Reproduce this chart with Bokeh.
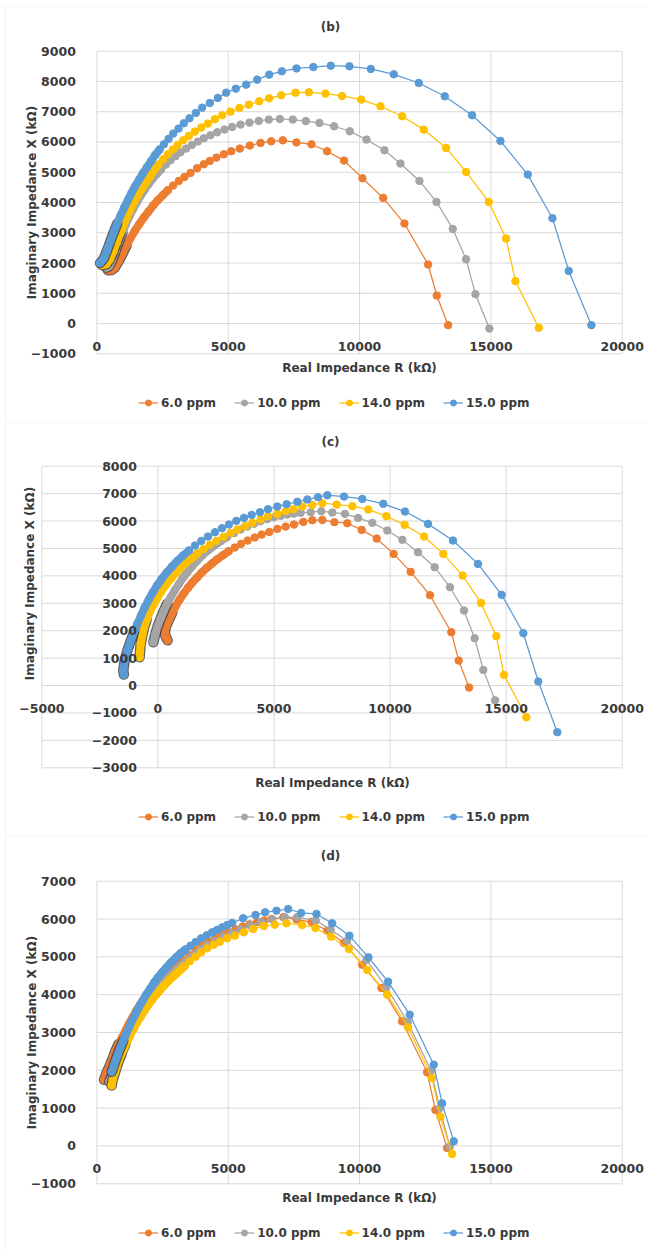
from bokeh.plotting import figure
from bokeh.layouts import column
from bokeh.models import Range1d, Label, Legend, LegendItem, SingleIntervalTicker, BoxAnnotation
from bokeh.embed import file_html
from bokeh.resources import INLINE

SERIES_NAMES = ["6.0 ppm", "10.0 ppm", "14.0 ppm", "15.0 ppm"]
SERIES_COLORS = ["#ED7D31", "#A5A5A5", "#FFC000", "#5B9BD5"]
X_TITLE = "Real Impedance R (kΩ)"
Y_TITLE = "Imaginary Impedance X (kΩ)"

# ---------------- panel (b) ----------------
b_r_6 = [420, 560, 683, 835, 975, 1127, 1280, 1444, 1609, 1787, 1965, 2142, 2320, 2523, 2701, 2904, 3120, 3335,
         3564, 3818, 4071, 4300, 4553, 4833, 5112, 5442, 5823, 6229, 6635, 7079, 7596, 8169, 8765, 9412, 10110,
         10897, 11709, 12610, 12940, 13372]
b_x_6 = [1760, 1770, 1851, 2071, 2313, 2577, 2819, 3062, 3282, 3502, 3700, 3898, 4075, 4251, 4405, 4559, 4713, 4845,
         4977, 5132, 5264, 5374, 5484, 5594, 5693, 5781, 5880, 5968, 6023, 6056, 5985, 5924, 5693, 5385, 4801,
         4152, 3304, 1950, 926, -54]
b_r_10 = [360, 467, 594, 721, 848, 975, 1102, 1241, 1381, 1521, 1660, 1812, 1965, 2117, 2282, 2447, 2625, 2802,
          2993, 3183, 3399, 3614, 3843, 4071, 4325, 4579, 4858, 5150, 5467, 5810, 6165, 6545, 6965, 7459, 7954,
          8473, 9032, 9628, 10263, 10948, 11557, 12280, 12928, 13549, 14057, 14412, 14945]
b_x_10 = [1850, 1895, 2126, 2423, 2720, 3007, 3282, 3546, 3788, 4009, 4218, 4416, 4603, 4779, 4944, 5099, 5253, 5396,
          5528, 5660, 5781, 5902, 6012, 6122, 6222, 6321, 6409, 6497, 6574, 6640, 6695, 6739, 6761, 6739, 6690,
          6630, 6519, 6354, 6078, 5726, 5286, 4713, 4019, 3128, 2126, 970, -164]
b_r_14 = [200, 366, 493, 632, 759, 886, 1013, 1140, 1280, 1419, 1559, 1711, 1863, 2016, 2181, 2346, 2523, 2701,
          2891, 3081, 3284, 3500, 3729, 3970, 4224, 4490, 4769, 5087, 5429, 5785, 6178, 6559, 7015, 7561, 8069,
          8702, 9336, 10060, 10796, 11620, 12445, 13296, 14057, 14920, 15580, 15935, 16823]
b_x_14 = [1930, 1961, 2115, 2390, 2687, 2973, 3260, 3524, 3788, 4019, 4240, 4460, 4669, 4867, 5065, 5253, 5429, 5594,
          5748, 5902, 6056, 6200, 6343, 6475, 6607, 6750, 6882, 7003, 7124, 7234, 7345, 7444, 7543, 7631, 7642,
          7598, 7521, 7400, 7179, 6849, 6409, 5803, 5010, 4019, 2808, 1399, -142]
b_r_15 = [120, 264, 391, 518, 645, 772, 899, 1038, 1178, 1318, 1457, 1609, 1762, 1914, 2066, 2218, 2384, 2549,
          2726, 2904, 3107, 3310, 3526, 3767, 4008, 4300, 4604, 4922, 5290, 5683, 6102, 6559, 7041, 7600, 8240,
          8905, 9615, 10428, 11303, 12255, 13245, 14285, 15364, 16405, 17344, 17965, 18828]
b_x_15 = [2000, 2148, 2423, 2731, 3018, 3304, 3568, 3832, 4075, 4317, 4537, 4757, 4977, 5176, 5374, 5572, 5748, 5924,
          6100, 6277, 6442, 6618, 6783, 6959, 7135, 7289, 7455, 7631, 7763, 7895, 8060, 8225, 8335, 8430, 8475,
          8520, 8501, 8413, 8236, 7950, 7510, 6882, 6034, 4922, 3480, 1740, -54]

# ---------------- panel (c) ----------------
c_r_6 = [420, 320, 300, 346, 476, 619, 777, 935, 1107, 1294, 1481, 1682, 1883, 2098, 2328, 2558, 2802, 3046,
         3305, 3577, 3865, 4166, 4468, 4798, 5142, 5501, 5860, 6262, 6650, 7081, 7598, 8158, 8776, 9422, 10154,
         10887, 11720, 12639, 12955, 13400]
c_x_6 = [1650, 1800, 1960, 2152, 2407, 2662, 2906, 3137, 3355, 3562, 3757, 3939, 4121, 4291, 4450, 4608, 4753, 4899,
         5033, 5167, 5288, 5398, 5507, 5604, 5714, 5799, 5872, 5969, 6030, 6042, 5957, 5920, 5677, 5361, 4802,
         4146, 3295, 1945, 912, -73]
c_r_10 = [-200, -120, -27, 110, 260, 400, 547, 720, 906, 1080, 1265, 1470, 1696, 1920, 2155, 2420, 2701, 2980,
          3275, 3560, 3850, 4140, 4424, 4710, 4999, 5290, 5573, 5860, 6147, 6579, 7038, 7512, 8058, 8618, 9235,
          9882, 10528, 11203, 11921, 12581, 13184, 13644, 14017, 14525]
c_x_10 = [1580, 1850, 2127, 2430, 2735, 2990, 3221, 3470, 3708, 3930, 4133, 4350, 4559, 4750, 4923, 5100, 5264, 5420,
          5556, 5690, 5799, 5900, 5993, 6070, 6139, 6190, 6236, 6270, 6300, 6322, 6358, 6310, 6261, 6115, 5933,
          5653, 5313, 4863, 4316, 3586, 2735, 1726, 571, -540]
c_r_14 = [-790, -774, -745, -673, -602, -487, -357, -200, -27, 145, 346, 547, 763, 978, 1193, 1452, 1696, 1954,
          2227, 2515, 2816, 3132, 3419, 3749, 4065, 4424, 4740, 5142, 5501, 5832, 6219, 6650, 7081, 7699, 8374,
          9063, 9839, 10628, 11461, 12294, 13127, 13917, 14577, 14908, 15870]
c_x_14 = [1033, 1216, 1520, 1824, 2103, 2395, 2675, 2942, 3197, 3440, 3671, 3890, 4097, 4291, 4474, 4644, 4814, 4972,
          5130, 5276, 5422, 5568, 5690, 5811, 5933, 6054, 6176, 6261, 6358, 6431, 6528, 6589, 6650, 6601, 6541,
          6419, 6176, 5860, 5434, 4802, 4012, 3015, 1799, 389, -1155]
c_r_15 = [-1470, -1492, -1434, -1320, -1176, -1032, -889, -731, -573, -401, -228, -41, 159, 375, 605, 834, 1079,
          1337, 1595, 1868, 2156, 2457, 2759, 3060, 3376, 3706, 4037, 4396, 4740, 5142, 5544, 6004, 6435, 6894,
          7297, 8015, 8805, 9709, 10643, 11634, 12711, 13788, 14807, 15740, 16387, 17205]
c_x_15 = [400, 560, 912, 1277, 1617, 1945, 2249, 2553, 2845, 3124, 3392, 3647, 3890, 4121, 4340, 4547, 4741,
          4924, 5106, 5276, 5434, 5592, 5738, 5872, 6006, 6115, 6224, 6322, 6431, 6528, 6613, 6699, 6784, 6869,
          6942, 6893, 6808, 6626, 6346, 5896, 5288, 4437, 3307, 1909, 146, -1702]

# ---------------- panel (d) ----------------
d_r_6 = [270, 380, 518, 620, 708, 830, 962, 1090, 1215, 1360, 1500, 1650, 1800, 1970, 2150, 2350, 2550, 2770,
         3000, 3250, 3500, 3750, 4000, 4250, 4500, 4750, 5000, 5270, 5550, 5820, 6100, 6370, 6650, 7100, 7600,
         8170, 8770, 9400, 10098, 10834, 11620, 12572, 12889, 13334]
d_x_6 = [1750, 1950, 2167, 2350, 2519, 2700, 2872, 3050, 3225, 3400, 3580, 3740, 3900, 4050, 4200, 4350, 4500, 4640,
         4780, 4920, 5050, 5180, 5300, 5400, 5500, 5580, 5660, 5730, 5800, 5860, 5920, 5960, 6000, 6050, 5990,
         5920, 5690, 5370, 4793, 4177, 3295, 1947, 951, -54]
d_r_10 = [470, 580, 700, 822, 950, 1080, 1210, 1350, 1500, 1650, 1810, 1980, 2160, 2350, 2550, 2760, 2980, 3210,
          3450, 3700, 3960, 4220, 4500, 4800, 5120, 5470, 5840, 6240, 6680, 7150, 7620, 8330, 8900, 9527, 10263,
          11024, 11836, 12724, 13054, 13435]
d_x_10 = [1700, 1880, 2080, 2280, 2480, 2680, 2870, 3060, 3250, 3430, 3610, 3790, 3970, 4140, 4310, 4470, 4620, 4770,
          4910, 5050, 5180, 5300, 5420, 5530, 5630, 5730, 5830, 5920, 5990, 6050, 6050, 5960, 5720, 5428, 4917,
          4194, 3269, 1991, 1003, -19]
d_r_14 = [560, 600, 670, 750, 835, 940, 1050, 1160, 1279, 1400, 1533, 1670, 1812, 1955, 2104, 2260, 2421, 2580,
          2738, 2900, 3056, 3200, 3347, 3537, 3753, 3969, 4198, 4451, 4680, 4959, 5251, 5594, 5949, 6355, 6774,
          7218, 7813, 8321, 8917, 9590, 10288, 11049, 11849, 12763, 13080, 13524]
d_x_14 = [1600, 1750, 1902, 2080, 2255, 2430, 2607, 2775, 2943, 3105, 3269, 3425, 3577, 3725, 3868, 4000, 4132, 4255,
          4371, 4475, 4573, 4665, 4758, 4882, 5005, 5120, 5225, 5322, 5402, 5490, 5560, 5648, 5736, 5816, 5851,
          5886, 5842, 5763, 5534, 5208, 4652, 4000, 3136, 1797, 774, -213]
d_r_15 = [560, 640, 708, 800, 898, 1000, 1114, 1230, 1342, 1470, 1596, 1735, 1875, 2020, 2167, 2320, 2485, 2650,
          2827, 3000, 3182, 3370, 3563, 3760, 3969, 4180, 4388, 4580, 4769, 4960, 5150, 5568, 6038, 6406, 6837,
          7281, 7776, 8360, 8956, 9615, 10339, 11087, 11912, 12826, 13143, 13587]
d_x_15 = [1960, 2110, 2255, 2430, 2607, 2780, 2960, 3140, 3313, 3490, 3665, 3830, 3998, 4150, 4309, 4450, 4591, 4720,
          4856, 4975, 5093, 5195, 5296, 5390, 5490, 5570, 5648, 5715, 5781, 5840, 5895, 6019, 6107, 6177, 6221,
          6265, 6160, 6133, 5886, 5560, 4987, 4344, 3471, 2149, 1127, 122]

GRID = "#D9D9D9"
TEXT = "#3A3A3A"
FONT = "DejaVu Sans"
SHADOW_N = 6
W = 649

PANELS = [
    dict(title="(b)", height=420, xr=(0, 20000), yr=(-1000, 9000), box=(96.4, 621.7, 50.7, 353.3),
         frame_top=5.5, title_pos=(330, 394), xt_pos=(359, 53), yt_pos=(31, 218), leg_pos=(138, 10),
         data=[(b_r_6, b_x_6), (b_r_10, b_x_10), (b_r_14, b_x_14), (b_r_15, b_x_15)], band=[15, 16, 16, 17]),
    dict(title="(c)", height=415, xr=(-5000, 20000), yr=(-3000, 8000), box=(41.4, 621.7, 45.7, 347.3),
         frame_top=1.5, title_pos=(330, 394), xt_pos=(332, 53), yt_pos=(29, 252), leg_pos=(138, 11),
         data=[(c_r_6, c_x_6), (c_r_10, c_x_10), (c_r_14, c_x_14), (c_r_15, c_x_15)], band=[18, 18, 17, 18]),
    dict(title="(d)", height=414, xr=(0, 20000), yr=(-1000, 7000), box=(96.4, 621.7, 45.7, 348.3),
         frame_top=0.5, title_pos=(330, 394), xt_pos=(359, 52), yt_pos=(31, 217), leg_pos=(138, 9),
         data=[(d_r_6, d_x_6), (d_r_10, d_x_10), (d_r_14, d_x_14), (d_r_15, d_x_15)], band=[20, 22, 23, 22]),
]


def build(cfg):
    H = cfg["height"]
    xmin, xmax = cfg["xr"]
    ymin, ymax = cfg["yr"]
    left, right, top, bottom = cfg["box"]
    sx = (xmax - xmin) / (right - left)
    sy = (ymax - ymin) / (bottom - top)
    xrng = Range1d(xmin - left * sx, xmax + (W - right) * sx)
    yrng = Range1d(ymin - (H - bottom) * sy, ymax + top * sy)
    p = figure(width=W, height=H, x_range=xrng, y_range=yrng, output_backend="svg", toolbar_location=None,
               min_border_left=0, min_border_right=0, min_border_top=0, min_border_bottom=0)
    p.title.visible = False
    p.background_fill_color = "white"
    p.border_fill_color = "white"
    p.outline_line_color = None
    p.xgrid.visible = False
    p.ygrid.visible = False

    # chart-area border (Excel chart frame)
    p.add_layout(BoxAnnotation(left=5, right=W + 20, bottom=-20, top=H - cfg["frame_top"],
                               left_units="screen", right_units="screen", bottom_units="screen",
                               top_units="screen", fill_color=None, line_color=GRID, line_width=1.2,
                               level="underlay"))

    xticks = list(range(xmin, xmax + 1, 5000))
    yticks = list(range(ymin, ymax + 1, 1000))
    p.segment(x0=xticks, y0=[ymin] * len(xticks), x1=xticks, y1=[ymax] * len(xticks),
              line_color=GRID, line_width=1)
    p.segment(x0=[xmin] * len(yticks), y0=yticks, x1=[xmax] * len(yticks), y1=yticks,
              line_color=GRID, line_width=1)

    xa = p.xaxis[0]
    ya = p.yaxis[0]
    xa.ticker = SingleIntervalTicker(interval=5000)
    ya.ticker = SingleIntervalTicker(interval=1000)
    xa.bounds = (xmin, xmax)
    ya.bounds = (ymin, ymax)
    for ax in (xa, ya):
        ax.fixed_location = 0
        ax.axis_line_color = None
        ax.major_tick_line_color = None
        ax.minor_tick_line_color = None
        ax.major_label_text_font = FONT
        ax.major_label_text_font_style = "bold"
        ax.major_label_text_font_size = "12.5px"
        ax.major_label_text_color = TEXT
    xa.major_label_standoff = 12
    ya.major_label_standoff = 15

    items = []
    for i, ((rs, xs), nb) in enumerate(zip(cfg["data"], cfg["band"])):
        c = SERIES_COLORS[i]
        p.line(rs[:SHADOW_N], xs[:SHADOW_N], line_width=10.5, line_color="#3a3a3a", line_alpha=0.8,
               line_cap="round", line_join="round")
        p.line(rs[:nb], xs[:nb], line_width=8, line_color=c, line_cap="round", line_join="round")
        ln = p.line(rs, xs, line_width=1.25, line_color=c)
        sc = p.scatter(rs, xs, size=7.5, fill_color=c, line_color=c)
        items.append(LegendItem(label=SERIES_NAMES[i], renderers=[ln, sc]))

    def lab(text, pos, angle=0.0):
        p.add_layout(Label(x=pos[0], y=pos[1], x_units="screen", y_units="screen", text=text, angle=angle,
                           text_align="center", text_baseline="middle", text_font=FONT,
                           text_font_style="bold", text_font_size="12px", text_color=TEXT))

    lab(cfg["title"], cfg["title_pos"])
    lab(X_TITLE, cfg["xt_pos"])
    lab(Y_TITLE, cfg["yt_pos"], angle=1.5707963)

    leg = Legend(items=items, location=cfg["leg_pos"], orientation="horizontal", glyph_width=20,
                 glyph_height=15, label_standoff=3, spacing=18, padding=0, margin=0,
                 border_line_color=None, background_fill_alpha=0, label_text_font=FONT,
                 label_text_font_style="bold", label_text_font_size="12px", label_text_color=TEXT)
    p.add_layout(leg)
    return p


layout = column(*[build(c) for c in PANELS])
open("out.html", "w").write(file_html(layout, INLINE))
